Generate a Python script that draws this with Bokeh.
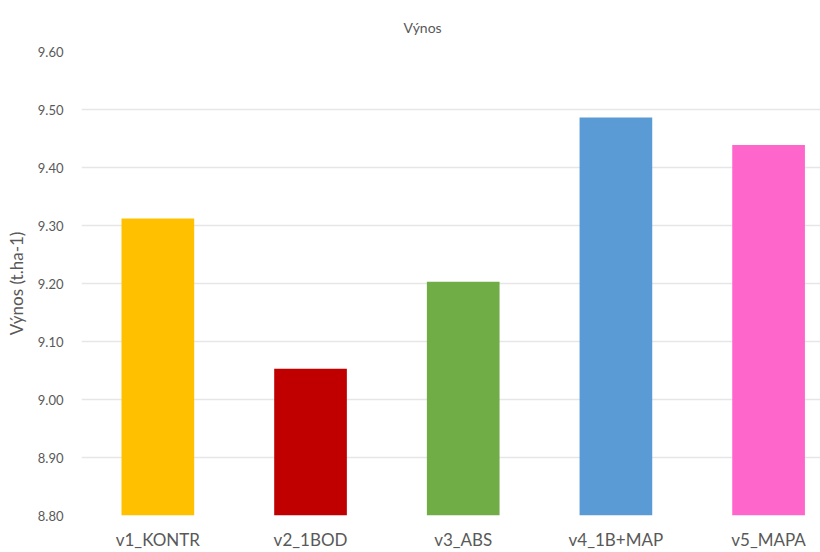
from bokeh.plotting import figure
from bokeh.models import ColumnDataSource, Range1d, FixedTicker, NumeralTickFormatter, Title
from bokeh.embed import file_html
from bokeh.resources import INLINE

# Yield per variant (t/ha)
categories = ["v1_KONTR", "v2_1BOD", "v3_ABS", "v4_1B+MAP", "v5_MAPA"]
yields = [9.312, 9.053, 9.203, 9.486, 9.439]
colors = ["#FFC000", "#C00000", "#70AD47", "#5B9BD5", "#FF66CC"]
y_ticks = [8.80, 8.90, 9.00, 9.10, 9.20, 9.30, 9.40, 9.50, 9.60]

FONT = "Lato"
TEXT = "#595959"

src = ColumnDataSource(dict(x=list(range(len(categories))), top=yields, color=colors))

p = figure(width=820, height=552, output_backend="svg", toolbar_location=None,
           x_range=Range1d(-0.5, 4.34), y_range=Range1d(y_ticks[0], y_ticks[-1]),
           min_border_left=81, min_border_right=0, min_border_top=50, min_border_bottom=36)
p.outline_line_color = None
p.background_fill_color = "white"
p.border_fill_color = "white"

p.vbar(x="x", top="top", bottom=y_ticks[0], width=0.476, color="color",
       line_color=None, source=src)

t = Title(text="Výnos", align="left", offset=322, standoff=32,
          text_font=FONT, text_font_size="14px", text_font_style="normal", text_color=TEXT)
p.add_layout(t, "above")

# x axis: category labels under each bar
p.xaxis.ticker = FixedTicker(ticks=list(range(len(categories))))
p.xaxis.major_label_overrides = {i: c for i, c in enumerate(categories)}
p.xaxis.axis_line_color = None
p.xaxis.major_tick_line_color = None
p.xaxis.minor_tick_line_color = None
p.xaxis.major_tick_out = 0
p.xaxis.major_tick_in = 0
p.xaxis.major_label_standoff = 13
p.xaxis.major_label_text_font = FONT
p.xaxis.major_label_text_font_size = "17px"
p.xaxis.major_label_text_color = TEXT
p.xgrid.grid_line_color = None

# y axis
p.yaxis.ticker = FixedTicker(ticks=y_ticks)
p.yaxis.formatter = NumeralTickFormatter(format="0.00")
p.yaxis.axis_line_color = None
p.yaxis.major_tick_line_color = None
p.yaxis.minor_tick_line_color = None
p.yaxis.major_tick_out = 0
p.yaxis.major_tick_in = 0
p.yaxis.major_label_standoff = 18
p.yaxis.major_label_text_font = FONT
p.yaxis.major_label_text_font_size = "13px"
p.yaxis.major_label_text_color = TEXT
p.yaxis.axis_label = "Výnos (t.ha-1)"
p.yaxis.axis_label_text_font = FONT
p.yaxis.axis_label_text_font_size = "17px"
p.yaxis.axis_label_text_font_style = "normal"
p.yaxis.axis_label_text_color = TEXT
p.yaxis.axis_label_standoff = 8
p.ygrid.grid_line_color = "#e6e6e6"
p.ygrid.grid_line_width = 1.3

open("out.html", "w").write(file_html(p, INLINE))
